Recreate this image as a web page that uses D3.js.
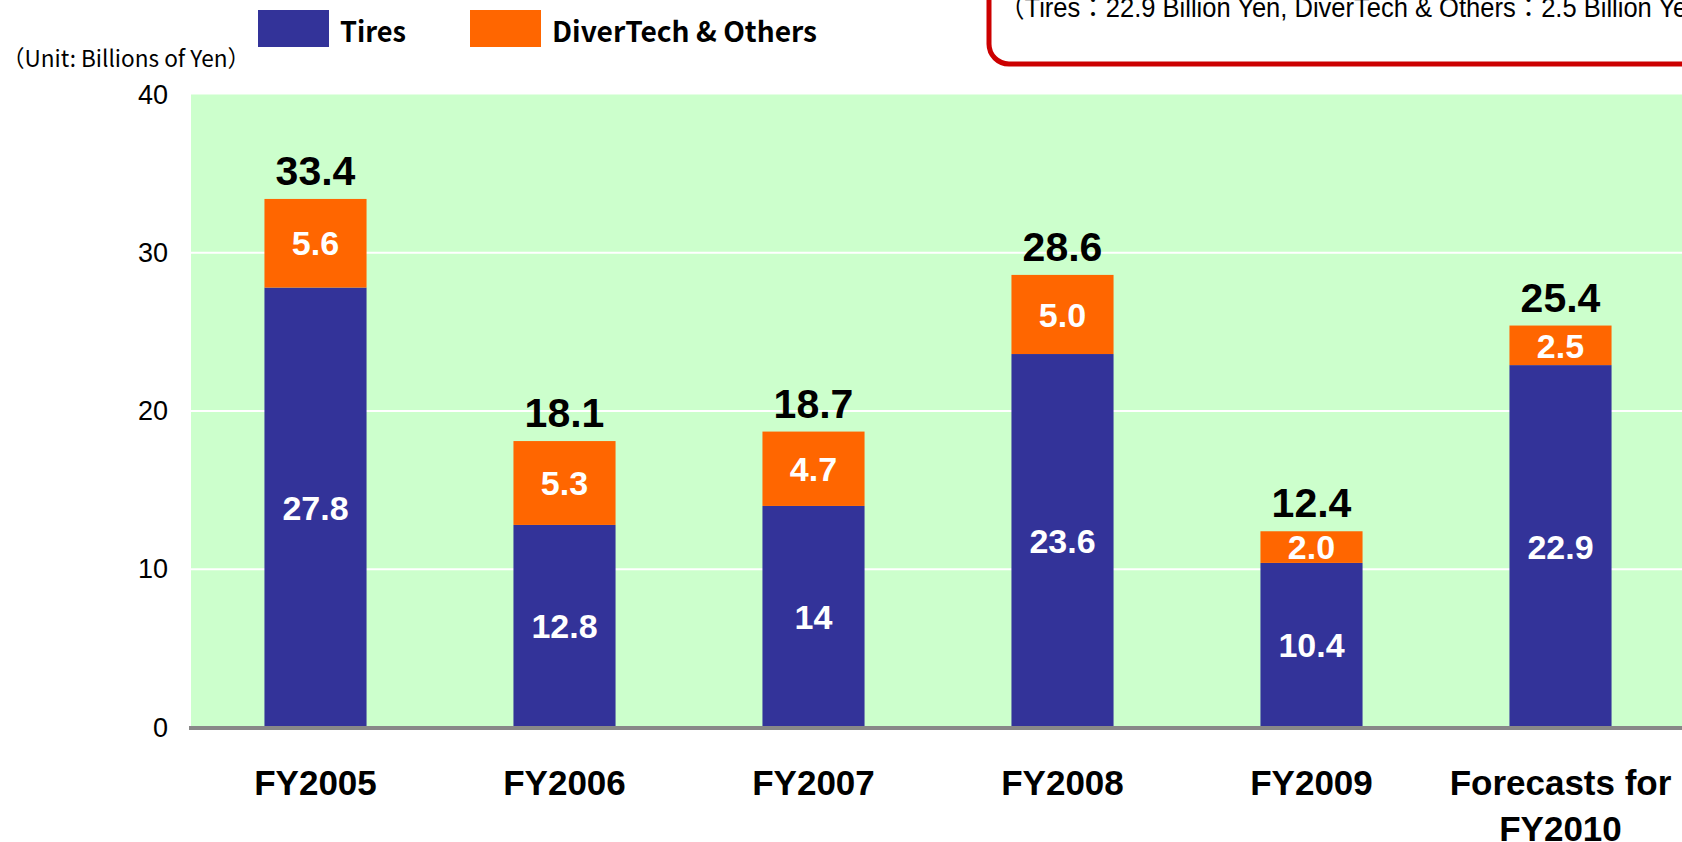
<!DOCTYPE html>
<html>
<head>
<meta charset="utf-8">
<script src="https://cdn.jsdelivr.net/npm/d3@7"></script>
<style>
  body { margin: 0; background: #fff; }
  svg { display: block; }
</style>
</head>
<body>
<svg id="chart" width="1682" height="842"></svg>
<script>
// data
var categories = ["FY2005", "FY2006", "FY2007", "FY2008", "FY2009", "Forecasts for|FY2010"];
var tires = [27.8, 12.8, 14, 23.6, 10.4, 22.9];
var others = [5.6, 5.3, 4.7, 5.0, 2.0, 2.5];
var tireLabels = ["27.8", "12.8", "14", "23.6", "10.4", "22.9"];
var otherLabels = ["5.6", "5.3", "4.7", "5.0", "2.0", "2.5"];
var yTicks = [0, 10, 20, 30, 40];
var seriesNames = ["Tires", "DiverTech & Others"];
var seriesColors = ["#333399", "#ff6600"];
var unitText = "（Unit: Billions of Yen）";
var noteText = "（Tires：22.9 Billion Yen, DiverTech & Others：2.5 Billion Yen）";

var svg = d3.select("#chart");
var plotLeft = 191, plotRight = 1682, plotTop = 94.5, plotBottom = 727.5;

var x = d3.scaleBand()
    .domain(categories)
    .range([plotLeft, 1685])
    .paddingInner(0.59)
    .paddingOuter(0.295);

var y = d3.scaleLinear()
    .domain([0, 40])
    .range([plotBottom, plotTop]);

var rows = categories.map(function (c, i) {
    return { cat: c, tires: tires[i], others: others[i], i: i };
});
var stacked = d3.stack().keys(["tires", "others"])(rows);

// plot background
svg.append("rect")
    .attr("x", plotLeft).attr("y", plotTop)
    .attr("width", plotRight - plotLeft).attr("height", plotBottom - plotTop)
    .attr("fill", "#ccffcc");

// gridlines
svg.append("g").selectAll("line")
    .data(yTicks.filter(function (d) { return d > 0 && d < 40; }))
    .enter().append("line")
    .attr("x1", plotLeft).attr("x2", plotRight)
    .attr("y1", function (d) { return y(d); })
    .attr("y2", function (d) { return y(d); })
    .attr("stroke", "#ffffff")
    .attr("stroke-width", 2);

// bars
var layers = svg.append("g").selectAll("g")
    .data(stacked)
    .enter().append("g")
    .attr("fill", function (d, i) { return seriesColors[i]; });

layers.selectAll("rect")
    .data(function (d) { return d; })
    .enter().append("rect")
    .attr("x", function (d) { return x(d.data.cat); })
    .attr("width", x.bandwidth())
    .attr("y", function (d) { return y(d[1]); })
    .attr("height", function (d) { return y(d[0]) - y(d[1]); });

// values inside segments
stacked.forEach(function (layer, li) {
    var labels = li === 0 ? tireLabels : otherLabels;
    svg.append("g").selectAll("text")
        .data(layer)
        .enter().append("text")
        .attr("x", function (d) { return x(d.data.cat) + x.bandwidth() / 2; })
        .attr("y", function (d) { return (y(d[0]) + y(d[1])) / 2; })
        .attr("dy", "0.36em")
        .attr("text-anchor", "middle")
        .attr("fill", "#fff")
        .attr("font-family", "Liberation Sans, Arial, sans-serif")
        .attr("font-weight", "bold")
        .attr("font-size", 34)
        .text(function (d) { return labels[d.data.i]; });
});

// totals
svg.append("g").selectAll("text")
    .data(stacked[1])
    .enter().append("text")
    .attr("x", function (d) { return x(d.data.cat) + x.bandwidth() / 2; })
    .attr("y", function (d) { return y(d[1]) - 14; })
    .attr("text-anchor", "middle")
    .attr("fill", "#000")
    .attr("font-family", "Liberation Sans, Arial, sans-serif")
    .attr("font-weight", "bold")
    .attr("font-size", 41)
    .text(function (d) { return d3.format(".1f")(d[1]); });

// baseline
svg.append("line")
    .attr("x1", plotLeft - 2).attr("x2", plotRight)
    .attr("y1", y(0) + 0.5).attr("y2", y(0) + 0.5)
    .attr("stroke", "#888888")
    .attr("stroke-width", 4);

// y axis
var yAxis = svg.append("g")
    .attr("transform", "translate(" + plotLeft + ",0)")
    .call(d3.axisLeft(y).tickValues(yTicks).tickSize(0).tickPadding(23));
yAxis.select(".domain").remove();
yAxis.selectAll("text")
    .attr("font-family", "Liberation Sans, Arial, sans-serif")
    .attr("font-size", 27)
    .attr("fill", "#000");

// x axis
var xAxis = svg.append("g")
    .attr("transform", "translate(0," + y(0) + ")")
    .call(d3.axisBottom(x).tickSize(0));
xAxis.select(".domain").remove();
xAxis.selectAll("text")
    .attr("font-family", "Liberation Sans, Arial, sans-serif")
    .attr("font-weight", "bold")
    .attr("font-size", 35)
    .attr("fill", "#000")
    .attr("dy", null)
    .attr("y", null)
    .each(function (d) {
        var t = d3.select(this);
        t.text(null);
        d.split("|").forEach(function (line, k) {
            t.append("tspan")
                .attr("x", 0)
                .attr("y", 67 + k * 46)
                .text(line);
        });
    });

// unit label
svg.append("text")
    .attr("x", 2).attr("y", 67)
    .attr("font-family", "Noto Sans CJK JP, sans-serif")
    .attr("font-size", 23)
    .attr("fill", "#000")
    .attr("textLength", 248)
    .attr("lengthAdjust", "spacingAndGlyphs")
    .text(unitText);

// legend
var legendX = [258, 470];
var legendW = [66, 265];
var legend = svg.append("g").selectAll("g")
    .data(seriesNames)
    .enter().append("g")
    .attr("transform", function (d, i) { return "translate(" + legendX[i] + ",0)"; });
legend.append("rect")
    .attr("x", 0).attr("y", 10)
    .attr("width", 71).attr("height", 37)
    .attr("fill", function (d, i) { return seriesColors[i]; });
legend.append("text")
    .attr("x", 82).attr("y", 42)
    .attr("font-family", "Noto Sans CJK JP, sans-serif")
    .attr("font-weight", "bold")
    .attr("font-size", 28)
    .attr("fill", "#000")
    .attr("textLength", function (d, i) { return legendW[i]; })
    .attr("lengthAdjust", "spacingAndGlyphs")
    .text(function (d) { return d; });

// note box (top right)
svg.append("rect")
    .attr("x", 989).attr("y", -60)
    .attr("width", 800).attr("height", 124)
    .attr("rx", 20).attr("ry", 20)
    .attr("fill", "#fff")
    .attr("stroke", "#cc0000")
    .attr("stroke-width", 5);
svg.append("text")
    .attr("x", 999).attr("y", 17)
    .attr("font-family", "Liberation Sans, Noto Sans CJK JP, sans-serif")
    .attr("font-size", 27)
    .attr("fill", "#000")
    .attr("textLength", 728)
    .attr("lengthAdjust", "spacingAndGlyphs")
    .text(noteText);
</script>
</body>
</html>
